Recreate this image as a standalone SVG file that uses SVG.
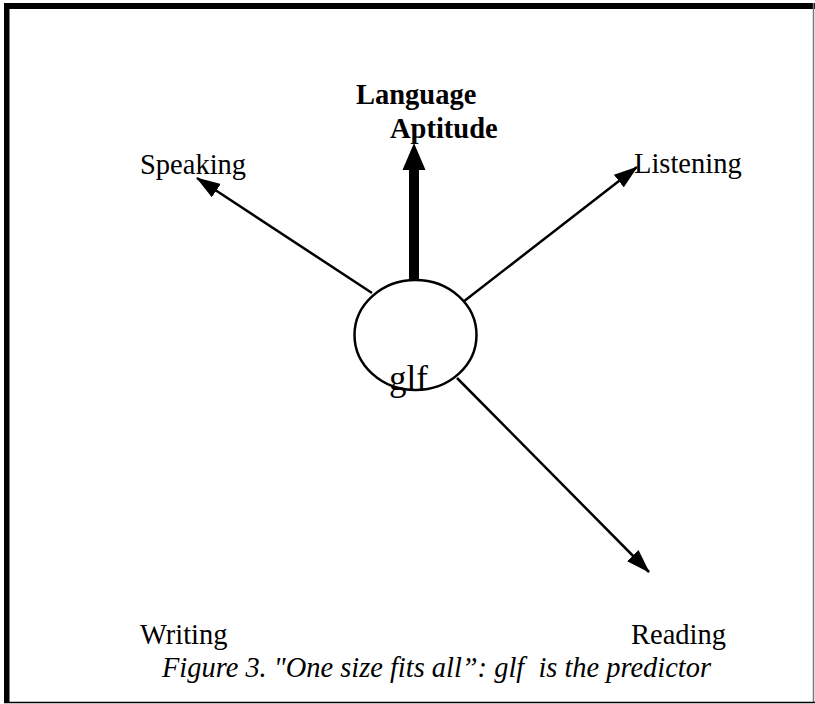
<svg xmlns="http://www.w3.org/2000/svg" width="815" height="704" viewBox="0 0 815 704">
<style>
.lbl{font-family:"Liberation Serif","Times New Roman",serif;font-size:28.5px;fill:#000}
.bold{font-weight:bold}
.cap{font-style:italic}
.conn{stroke:#000;stroke-width:2.5;fill:none}
</style>
<defs>
<marker id="ah" markerUnits="userSpaceOnUse" viewBox="0 0 24 16" markerWidth="24" markerHeight="16" refX="23" refY="8" orient="auto">
<path d="M0,0 L24,8 L0,16 z" fill="#000"/>
</marker>
</defs>
<rect x="0" y="0" width="815" height="704" fill="#fff"/>
<g id="frame">
<rect x="4" y="3" width="811" height="6" fill="#000"/>
<rect x="4" y="3" width="5.5" height="700" fill="#000"/>
<line x1="813.5" y1="3" x2="813.5" y2="703" stroke="#777" stroke-width="1.5"/>
<line x1="4" y1="702.5" x2="815" y2="702.5" stroke="#000" stroke-width="1.5"/>
</g>
<g id="connectors">
<line class="conn" x1="372" y1="293" x2="197" y2="178" marker-end="url(#ah)"/>
<line class="conn" x1="463" y1="302" x2="637" y2="167" marker-end="url(#ah)"/>
<line class="conn" x1="457" y1="378" x2="649" y2="572" marker-end="url(#ah)"/>
<line x1="414" y1="282" x2="414" y2="166" stroke="#000" stroke-width="10"/>
<polygon points="402.5,170 425.5,170 414,143" fill="#000"/>
</g>
<g id="glf">
<ellipse cx="415.5" cy="335" rx="61" ry="55" fill="#fff" stroke="#000" stroke-width="2.5"/>
<text class="lbl" x="389" y="390" style="font-size:35px">glf</text>
</g>
<g id="language-aptitude">
<text class="lbl bold" x="356" y="104">Language</text>
<text class="lbl bold" x="390" y="138">Aptitude</text>
</g>
<g id="speaking"><text class="lbl" x="140" y="174">Speaking</text></g>
<g id="listening"><text class="lbl" x="634" y="173">Listening</text></g>
<g id="writing"><text class="lbl" x="140" y="644">Writing</text></g>
<g id="reading"><text class="lbl" x="631" y="644">Reading</text></g>
<g id="caption"><text class="lbl cap" x="162" y="677" textLength="549" lengthAdjust="spacingAndGlyphs" xml:space="preserve">Figure 3. "One size fits all”: glf  is the predictor</text></g>
</svg>
